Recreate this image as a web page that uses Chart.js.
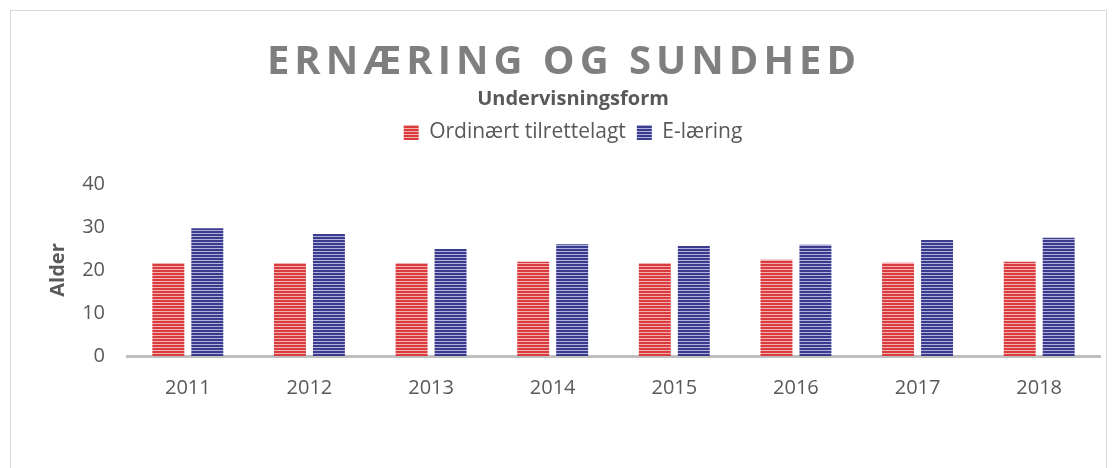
<!DOCTYPE html>
<html>
<head>
<meta charset="utf-8">
<script src="https://cdn.jsdelivr.net/npm/chart.js@4/dist/chart.umd.min.js"></script>
<style>
  html, body { margin: 0; padding: 0; background: #fff; }
  #frame { position: absolute; left: 10px; top: 10px; width: 1097px; height: 470px; border: 1px solid #d9d9d9; box-sizing: border-box; }
  #title { position: absolute; left: 5px; top: 31px; width: 1118px; text-align: center; line-height: 40px;
           font: bold 40px "Open Sans", sans-serif; letter-spacing: 5px; color: #7f7f7f; }
  #box { position: absolute; left: 0; top: 0; width: 1118px; height: 468px; }
</style>
</head>
<body>
<div id="frame"></div>
<div id="box"><canvas id="chart"></canvas></div>
<div id="title">ERNÆRING OG SUNDHED</div>
<script>
const years = ['2011', '2012', '2013', '2014', '2015', '2016', '2017', '2018'];
const ordinaert = [21.6, 21.6, 21.6, 21.9, 21.6, 22.4, 21.7, 21.9];
const elaering = [29.7, 28.4, 24.9, 26.0, 25.6, 25.9, 27.0, 27.5];

// striped fill like the reference bars
function stripes(dark, light) {
  const c = document.createElement('canvas');
  c.width = 4; c.height = 3;
  const x = c.getContext('2d');
  x.fillStyle = light; x.fillRect(0, 0, 4, 3);
  x.fillStyle = dark; x.fillRect(0, 0, 4, 2);
  return x.createPattern(c, 'repeat');
}
const redFill = stripes('#d93b3e', '#f3b0b1');
const blueFill = stripes('#3b3b8e', '#b0b0dc');

const txt = '#595959';
const fam = '"Open Sans", sans-serif';

// extra room between legend and plot
const legendGap = {
  id: 'legendGap',
  beforeInit(chart) {
    const fit = chart.legend.fit;
    chart.legend.fit = function () {
      fit.bind(chart.legend)();
      this.height += 31;
    };
  }
};

new Chart('chart', {
  type: 'bar',
  data: {
    labels: years,
    datasets: [
      { label: 'Ordinært tilrettelagt', data: ordinaert, backgroundColor: redFill },
      { label: 'E-læring', data: elaering, backgroundColor: blueFill }
    ]
  },
  options: {
    responsive: true,
    maintainAspectRatio: false,
    animation: false,
    datasets: { bar: { categoryPercentage: 0.641, barPercentage: 0.82 } },
    layout: { padding: { top: 87, left: 46, right: 18, bottom: 48 } },
    plugins: {
      title: { display: false },
      subtitle: {
        display: true, text: 'Undervisningsform', color: txt,
        font: { family: fam, size: 20, weight: 'bold' }, padding: { top: 0, bottom: 0 }
      },
      legend: {
        position: 'top',
        labels: { color: txt, font: { family: fam, size: 21 }, boxWidth: 15, boxHeight: 15, padding: 11 }
      },
      tooltip: { enabled: false }
    },
    scales: {
      x: {
        grid: { display: false, drawTicks: false },
        border: { color: '#bfbfbf', width: 3 },
        ticks: { color: txt, font: { family: fam, size: 20 }, padding: 20 }
      },
      y: {
        min: 0, max: 40,
        grid: { display: false, drawTicks: false },
        border: { display: false },
        ticks: { stepSize: 10, color: txt, font: { family: fam, size: 20 }, padding: 22 },
        title: { display: true, text: 'Alder', color: txt, font: { family: fam, size: 20, weight: 'bold' }, padding: 0 },
        afterFit(scale) { scale.width = 81; }
      }
    }
  },
  plugins: [legendGap]
});
</script>
</body>
</html>
